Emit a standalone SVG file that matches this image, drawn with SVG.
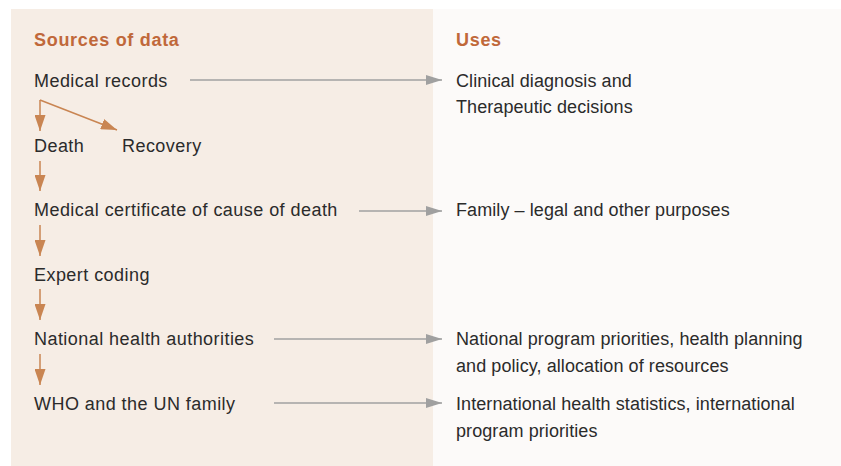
<svg xmlns="http://www.w3.org/2000/svg" width="841" height="466" viewBox="0 0 841 466">
<style>
.t{font-family:"Liberation Sans",Arial,sans-serif;font-size:18px;fill:#2b2b2b;letter-spacing:0.45px}
.r{letter-spacing:0.08px}
.h{font-family:"Liberation Sans",Arial,sans-serif;font-size:18px;font-weight:bold;fill:#c0683a;letter-spacing:0.7px}
.g{stroke:#a0a0a0;stroke-width:1.5;fill:none}
.o{stroke:#c98552;stroke-width:1.5;fill:none}
</style>
<defs>
<marker id="ag" markerWidth="16" markerHeight="10" refX="16" refY="5" orient="auto" markerUnits="userSpaceOnUse"><path d="M0,0 L16,5 L0,10 Z" fill="#a0a0a0"/></marker>
<marker id="ao" markerWidth="16" markerHeight="11" refX="16" refY="5.5" orient="auto" markerUnits="userSpaceOnUse"><path d="M0,0 L16,5.5 L0,11 Z" fill="#c98552"/></marker>
</defs>
<rect x="0" y="0" width="841" height="466" fill="#ffffff"/>
<rect x="11" y="9" width="422" height="457" fill="#f6ede5"/>
<rect x="433" y="9" width="408" height="457" fill="#fcfaf9"/>
<g id="headers">
<text class="h" x="34" y="46">Sources of data</text>
<text class="h" x="456" y="46">Uses</text>
</g>
<g id="n-medical-records"><text class="t" x="34" y="87">Medical records</text></g>
<g id="n-death"><text class="t" x="34" y="152">Death</text></g>
<g id="n-recovery"><text class="t" x="122" y="152">Recovery</text></g>
<g id="n-certificate"><text class="t" x="34" y="216">Medical certificate of cause of death</text></g>
<g id="n-expert"><text class="t" x="34" y="281">Expert coding</text></g>
<g id="n-national"><text class="t" x="34" y="345">National health authorities</text></g>
<g id="n-who"><text class="t" x="34" y="410">WHO and the UN family</text></g>
<g id="u-clinical"><text class="t r" x="456" y="87">Clinical diagnosis and</text><text class="t r" x="456" y="113">Therapeutic decisions</text></g>
<g id="u-family"><text class="t r" x="456" y="216">Family – legal and other purposes</text></g>
<g id="u-national"><text class="t r" x="456" y="345">National program priorities, health planning</text><text class="t r" x="456" y="372">and policy, allocation of resources</text></g>
<g id="u-international"><text class="t r" x="456" y="410">International health statistics, international</text><text class="t r" x="456" y="437">program priorities</text></g>
<g id="connectors">
<line class="g" x1="190" y1="80" x2="442" y2="80" marker-end="url(#ag)"/>
<line class="g" x1="359" y1="211" x2="442" y2="211" marker-end="url(#ag)"/>
<line class="g" x1="274" y1="339" x2="442" y2="339" marker-end="url(#ag)"/>
<line class="g" x1="274" y1="403" x2="442" y2="403" marker-end="url(#ag)"/>
<line class="o" x1="40" y1="100" x2="40" y2="131" marker-end="url(#ao)"/>
<line class="o" x1="40" y1="100" x2="117" y2="130" marker-end="url(#ao)"/>
<line class="o" x1="40" y1="161" x2="40" y2="191" marker-end="url(#ao)"/>
<line class="o" x1="40" y1="225" x2="40" y2="256" marker-end="url(#ao)"/>
<line class="o" x1="40" y1="289" x2="40" y2="320" marker-end="url(#ao)"/>
<line class="o" x1="40" y1="354" x2="40" y2="385" marker-end="url(#ao)"/>
</g>
</svg>
